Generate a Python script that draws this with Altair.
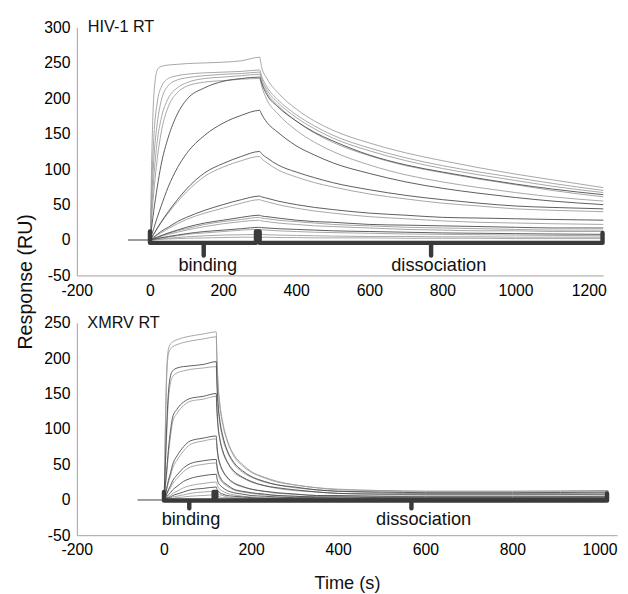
import altair as alt
import pandas as pd

# ---------------- HIV-1 RT (top panel) ----------------
top_t_base = [-60]
top_t_assoc = [0, 5, 10, 20, 30, 50, 75, 100, 150, 200, 250, 300]
top_t_dissoc = [305, 320, 350, 400, 450, 500, 600, 700, 800, 900, 1000, 1100, 1240]

top_names = ["A", "B", "C", "D", "F", "H2", "J", "L", "M", "O", "P", "Q",
             "E", "G", "H", "I", "K", "N"]
top_shade = ["light"] * 12 + ["dark"] * 6

top_assoc = {
    "A": [0, 120, 200, 240, 245, 247, 248, 249, 250, 251, 253, 258],
    "B": [0, 80, 140, 195, 215, 228, 232, 234, 236, 237, 238, 240],
    "C": [0, 60, 110, 165, 195, 218, 226, 229, 232, 234, 235, 237],
    "D": [0, 45, 85, 140, 170, 200, 215, 222, 228, 230, 232, 234],
    "E": [0, 20, 40, 75, 105, 145, 178, 198, 215, 224, 228, 230],
    "F": [0, 35, 65, 115, 150, 188, 208, 217, 223, 225, 227, 228],
    "G": [0, 8, 16, 32, 47, 75, 102, 122, 148, 165, 176, 183],
    "H": [0, 4, 8, 17, 25, 40, 57, 72, 95, 108, 118, 125],
    "H2": [0, 4, 8, 16, 24, 38, 54, 68, 90, 103, 112, 118],
    "I": [0, 2, 4, 8, 12, 18, 26, 32, 42, 50, 57, 62],
    "J": [0, 2, 3, 7, 10, 16, 23, 29, 38, 45, 52, 57],
    "K": [0, 1, 2, 4, 6, 10, 14, 18, 24, 28, 32, 35],
    "L": [0, 1, 2, 4, 6, 9, 13, 16, 22, 26, 29, 32],
    "M": [0, 1, 2, 3, 5, 8, 11, 14, 19, 23, 26, 28],
    "N": [0, 0.5, 1, 2, 3, 5, 7, 9, 12, 14, 16, 18],
    "O": [0, 0.5, 1, 2, 3, 4, 6, 8, 10, 12, 14, 15],
    "P": [0, 0, 0.5, 1, 1.5, 2.5, 3.5, 4.5, 6, 7, 7.5, 8],
    "Q": [0, 0, 0, 0.5, 1, 1.5, 2, 2.5, 3, 3.5, 4, 4],
}
top_dissoc = {
    "A": [245, 228, 208, 185, 168, 155, 137, 123, 112, 102, 93, 85, 74],
    "B": [232, 216, 198, 177, 161, 148, 130, 116, 105, 96, 88, 80, 70],
    "C": [228, 212, 194, 173, 157, 144, 126, 112, 101, 92, 84, 76, 67],
    "D": [225, 208, 190, 168, 151, 138, 119, 105, 95, 86, 78, 70, 61],
    "E": [222, 205, 188, 168, 152, 140, 120, 106, 96, 87, 79, 72, 64],
    "F": [218, 198, 178, 155, 138, 125, 106, 92, 82, 74, 67, 61, 55],
    "G": [178, 166, 152, 133, 120, 109, 94, 82, 73, 66, 60, 55, 50],
    "H": [122, 116, 106, 96, 88, 81, 71, 63, 57, 52, 48, 46, 44],
    "H2": [115, 109, 99, 89, 81, 75, 65, 58, 52, 48, 44, 42, 40],
    "I": [61, 59, 55, 50, 46, 43, 38, 35, 32, 31, 30, 29, 28],
    "J": [56, 54, 50, 45, 41, 38, 33, 30, 27, 25, 24, 23, 22],
    "K": [34, 33, 31, 28, 26, 25, 22, 21, 20, 19, 18, 17, 17],
    "L": [31, 30, 28, 26, 24, 22, 20, 18, 17, 16, 15, 14, 14],
    "M": [27, 26, 24, 22, 20, 19, 17, 15, 14, 13, 13, 12, 12],
    "N": [17.5, 17, 16, 15, 14, 13, 12, 11, 10, 9.5, 9, 8.5, 8],
    "O": [14.5, 14, 13, 12, 11, 10.5, 9.5, 8.5, 8, 7.5, 7, 6.5, 6],
    "P": [8, 7.5, 7, 6.5, 6, 5.5, 5, 5, 4.5, 4.5, 4, 4, 4],
    "Q": [4, 4, 3.5, 3.5, 3, 3, 3, 2.5, 2.5, 2.5, 2, 2, 2],
}

# ---------------- XMRV RT (bottom panel) ----------------
bot_t_base = [-60]
bot_t_assoc = [0, 3, 6, 10, 15, 20, 30, 45, 60, 90, 120]
bot_t_dissoc = [121, 124, 128, 135, 145, 160, 180, 200, 230, 260, 300, 350,
                400, 500, 600, 800, 1020]

bot_names = ["b1", "b2", "b4", "b6", "b8", "b10", "b12", "b14", "b15",
             "b3", "b5", "b7", "b9", "b11", "b13"]
bot_shade = ["light"] * 9 + ["dark"] * 6

bot_assoc = {
    "b1": [0, 100, 180, 212, 220, 223, 226, 229, 231, 234, 237],
    "b2": [0, 90, 170, 205, 213, 216, 219, 222, 224, 227, 230],
    "b3": [0, 50, 100, 150, 175, 182, 186, 188, 189, 191, 195],
    "b4": [0, 45, 90, 140, 165, 174, 179, 182, 184, 186, 188],
    "b5": [0, 20, 40, 70, 98, 117, 128, 138, 143, 146, 150],
    "b6": [0, 18, 36, 63, 90, 110, 122, 133, 139, 142, 146],
    "b7": [0, 8, 16, 27, 38, 50, 62, 75, 83, 87, 90],
    "b8": [0, 7, 14, 24, 34, 45, 56, 69, 78, 83, 86],
    "b9": [0, 4, 8, 14, 20, 27, 35, 45, 51, 55, 57],
    "b10": [0, 3, 7, 12, 17, 23, 30, 40, 46, 50, 52],
    "b11": [0, 2, 4, 7, 10, 14, 19, 26, 30, 34, 36],
    "b12": [0, 1, 2, 4, 6, 9, 12, 17, 20, 23, 25],
    "b13": [0, 1, 2, 3, 4, 6, 8, 11, 14, 16, 18],
    "b14": [0, 0.5, 1, 2, 3, 4, 5, 7, 9, 11, 12],
    "b15": [0, 0, 0.5, 1, 1.5, 2, 3, 4, 5, 6, 7],
}
bot_dissoc = {
    "b1": [213, 166, 137, 109, 85, 64, 50, 40, 32, 26, 21, 17, 15, 13, 12, 12, 13],
    "b2": [207, 161, 133, 106, 83, 62, 48, 39, 31, 25, 21, 17, 14, 13, 12, 12, 13],
    "b3": [176, 137, 113, 90, 70, 53, 41, 33, 26, 21, 18, 14, 12, 11, 10, 10, 11],
    "b4": [169, 132, 109, 86, 68, 51, 39, 32, 25, 21, 17, 14, 12, 10, 9, 9, 10],
    "b5": [135, 105, 87, 69, 54, 41, 32, 26, 20, 17, 14, 11, 9, 8, 8, 8, 8],
    "b6": [131, 102, 85, 67, 53, 39, 31, 25, 20, 16, 13, 11, 9, 8, 7, 7, 8],
    "b7": [81, 63, 52, 41, 32, 24, 19, 15, 12, 10, 8, 6, 6, 5, 5, 5, 5],
    "b8": [77, 60, 50, 40, 31, 23, 18, 15, 12, 9, 8, 6, 5, 5, 4, 4, 5],
    "b9": [51, 40, 33, 26, 21, 15, 12, 10, 8, 6, 5, 4, 4, 3, 3, 3, 3],
    "b10": [47, 36, 30, 24, 19, 14, 11, 9, 7, 6, 5, 4, 3, 3, 3, 3, 3],
    "b11": [32, 25, 21, 17, 13, 10, 8, 6, 5, 4, 3, 3, 2, 2, 2, 2, 2],
    "b12": [23, 18, 15, 12, 9, 7, 5, 4, 3, 3, 2, 2, 2, 1, 1, 1, 1],
    "b13": [16, 13, 10, 8, 6, 5, 4, 3, 2, 2, 2, 1, 1, 1, 1, 1, 1],
    "b14": [11, 8, 7, 6, 4, 3, 3, 2, 2, 1, 1, 1, 1, 1, 1, 1, 1],
    "b15": [6, 5, 4, 3, 3, 2, 1, 1, 1, 1, 1, 0, 0, 0, 0, 0, 0],
}

# phase annotations
top_phase = {"start": 0, "inj_end": 300, "end": 1238}
bot_phase = {"start": 0, "inj_end": 120, "end": 1017}
top_bracket = {"level": -4, "hook": 12, "tick": -22, "mid": [147, 769],
               "notch": 10, "label_v": -36, "label_t": [158, 790]}
bot_bracket = {"level": -1, "hook": 11, "tick": -12, "mid": [58, 568],
               "notch": 6, "label_v": -27, "label_t": [62, 596]}
phase_labels = ["binding", "dissociation"]

top_title = {"text": "HIV-1 RT", "t": -170, "v": 300}
bot_title = {"text": "XMRV RT", "t": -176, "v": 250}

FONT = "Liberation Sans"


def curves_df(names, shades, t_base, t_assoc, t_dissoc, assoc, dissoc):
    rows = []
    for name, shade in zip(names, shades):
        base = t_base if shade == "light" else []
        ts = base + t_assoc + t_dissoc
        vs = [0] * len(base) + assoc[name] + dissoc[name]
        for i, (t, v) in enumerate(zip(ts, vs)):
            rows.append({"curve": name, "shade": shade, "t": t, "v": v, "i": i})
    return pd.DataFrame(rows)


def bracket_df(ph, br):
    s, e, end = ph["start"], ph["inj_end"], ph["end"]
    lv, hk, tk = br["level"], br["hook"], br["tick"]
    m1, m2 = br["mid"]
    n = br["notch"]
    pts = [(s, hk), (s, lv), (m1, lv), (m1, tk), (m1, lv), (e - n, lv),
           (e - n, hk), (e, hk), (e, lv), (m2, lv), (m2, tk), (m2, lv),
           (end, lv), (end, hk - 2)]
    return pd.DataFrame([{"t": t, "v": v, "i": i} for i, (t, v) in enumerate(pts)])


def label_df(br):
    return pd.DataFrame({"t": br["label_t"], "v": [br["label_v"]] * 2,
                         "label": phase_labels})


LABEL_EXPR = "'' + datum.value"


def panel(curves, ph, br, ttl, xdom, ydom, xticks, yticks, w, h, bottom):
    if bottom:
        xaxis = alt.Axis(values=xticks, title="Time (s)", titleFontSize=18.5,
                         titleFont=FONT, titleFontWeight="normal", titleColor="#111",
                         titleY=48, titleBaseline="middle", labelExpr=LABEL_EXPR,
                         labelFlush=False)
        yaxis = alt.Axis(values=yticks, title=None, labelExpr=LABEL_EXPR)
    else:
        xaxis = alt.Axis(values=xticks, title=None, labelExpr=LABEL_EXPR,
                         labelFlush=False)
        yaxis = alt.Axis(values=yticks, title="Response (RU)", titleFontSize=20,
                         titleFont=FONT, titleFontWeight="normal", titleColor="#111",
                         titleX=-52, titleY=258, titleAngle=270,
                         titleBaseline="middle", titleAlign="center",
                         labelExpr=LABEL_EXPR)
    x = alt.X("t:Q", scale=alt.Scale(domain=xdom, nice=False, zero=False), axis=xaxis)
    y = alt.Y("v:Q", scale=alt.Scale(domain=ydom, nice=False, zero=False), axis=yaxis)

    lines = alt.Chart(curves).mark_line(strokeWidth=0.9, interpolate="monotone").encode(
        x=x, y=y, detail="curve:N", order="i:Q",
        color=alt.Color("shade:N", legend=None,
                        scale=alt.Scale(domain=["light", "dark"],
                                        range=["#9c9c9c", "#4a4a4a"])),
    )
    brk = alt.Chart(bracket_df(ph, br)).mark_line(
        strokeWidth=4.5, color="#3a3a3a", strokeJoin="round", strokeCap="round"
    ).encode(x=x, y=y, order="i:Q")
    lbl = alt.Chart(label_df(br)).mark_text(
        font=FONT, fontSize=18.5, color="#111", baseline="middle", align="center"
    ).encode(x=x, y=y, text="label:N")
    tdf = pd.DataFrame({"t": [ttl["t"]], "v": [ttl["v"]], "label": [ttl["text"]]})
    tt = alt.Chart(tdf).mark_text(
        font=FONT, fontSize=16.5, color="#111", baseline="middle", align="left"
    ).encode(x=x, y=y, text="label:N")
    return alt.layer(lines, brk, lbl, tt).properties(width=w, height=h)


top = panel(curves_df(top_names, top_shade, top_t_base, top_t_assoc, top_t_dissoc,
                      top_assoc, top_dissoc),
            top_phase, top_bracket, top_title, [-200, 1240], [-50, 300],
            [-200, 0, 200, 400, 600, 800, 1000, 1200],
            [-50, 0, 50, 100, 150, 200, 250, 300], 535, 252, False)
bot = panel(curves_df(bot_names, bot_shade, bot_t_base, bot_t_assoc, bot_t_dissoc,
                      bot_assoc, bot_dissoc),
            bot_phase, bot_bracket, bot_title, [-200, 1040], [-50, 250],
            [-200, 0, 200, 400, 600, 800, 1000],
            [-50, 0, 50, 100, 150, 200, 250], 549, 216, True)

chart = alt.vconcat(top, bot, spacing=48, bounds="flush").properties(
    padding={"left": 8, "top": 7, "right": 2, "bottom": 0}
).configure_view(stroke=None).configure_axis(
    grid=False, ticks=False, domainColor="#a0a0a0", domainWidth=1,
    labelFont=FONT, labelFontSize=16, labelColor="#000", labelPadding=7,
)

chart.save("out.html", embed_options={"renderer": "svg", "actions": False})
